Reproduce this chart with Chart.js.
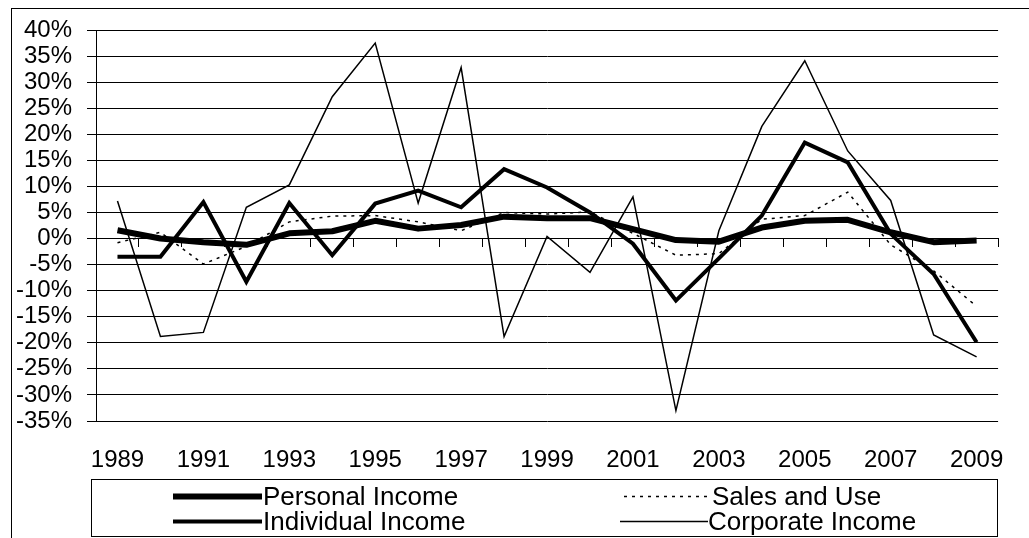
<!DOCTYPE html>
<html>
<head>
<meta charset="utf-8">
<script src="https://cdn.jsdelivr.net/npm/chart.js@4.4.1/dist/chart.umd.min.js"></script>
<style>
html,body{margin:0;padding:0;background:#fff;}
#wrap{width:1029px;height:538px;position:relative;overflow:hidden;}
</style>
</head>
<body>
<div id="wrap"><canvas id="c" width="1029" height="538"></canvas></div>
<script>
// ---- data ----
const years = ['1989','1990','1991','1992','1993','1994','1995','1996','1997','1998','1999','2000','2001','2002','2003','2004','2005','2006','2007','2008','2009'];
const personalIncome   = [1.6, 0.0, -0.7, -1.2, 1.0, 1.4, 3.4, 1.9, 2.6, 4.2, 3.9, 3.9, 1.8, -0.3, -0.6, 2.1, 3.4, 3.6, 1.2, -0.7, -0.4];
const salesAndUse      = [-0.8, 1.2, -4.9, -1.5, 3.2, 4.3, 4.4, 3.2, 1.5, 5.0, 4.7, 5.1, 1.0, -3.2, -2.9, 3.7, 4.4, 8.9, -1.2, -6.2, -13.0];
const individualIncome = [-3.5, -3.5, 7.0, -8.3, 6.8, -3.2, 6.7, 9.2, 6.0, 13.3, 9.8, 5.0, -1.0, -11.9, -3.8, 4.4, 18.4, 14.6, 0.9, -6.8, -19.9];
const corporateIncome  = [7.2, -18.8, -18.0, 6.0, 10.3, 27.2, 37.5, 6.8, 32.8, -18.8, 0.4, -6.5, 8.0, -33.0, 1.5, 21.5, 34.1, 16.8, 7.3, -18.5, -22.7];
const seriesNames = ['Personal Income', 'Sales and Use', 'Individual Income', 'Corporate Income'];
const yMin = -35, yMax = 40, yStep = 5;

const FONT = 'Liberation Sans, Arial, sans-serif';

const datasets = [
  {label: seriesNames[0], data: personalIncome, borderColor:'#000', borderWidth:6, borderJoinStyle:'round', borderCapStyle:'butt'},
  {label: seriesNames[1], data: salesAndUse, borderColor:'#000', borderWidth:1.5, borderDash:[3,5], borderJoinStyle:'miter'},
  {label: seriesNames[2], data: individualIncome, borderColor:'#000', borderWidth:4, borderJoinStyle:'miter', borderCapStyle:'butt'},
  {label: seriesNames[3], data: corporateIncome, borderColor:'#000', borderWidth:1.5, borderJoinStyle:'miter'}
].map(d => Object.assign({pointRadius:0, pointHoverRadius:0, tension:0, fill:false, xAxisID:'x', yAxisID:'y'}, d));

const framePlugin = {
  id: 'frame',
  beforeDraw(chart) {
    const ctx = chart.ctx;
    ctx.save();
    ctx.fillStyle = '#fff';
    ctx.fillRect(0, 0, chart.width, chart.height);
    ctx.strokeStyle = '#000';
    ctx.lineWidth = 1;
    ctx.strokeRect(11.5, 8.5, 1200, 700);
    ctx.restore();
  },
  afterDraw(chart) {
    const ctx = chart.ctx;
    ctx.save();
    ctx.strokeStyle = '#000';
    ctx.lineWidth = 1;
    ctx.strokeRect(91.5, 479.5, 906, 57);
    const entries = [
      {ds: 0, x1: 173, x2: 262, tx: 263, y: 496.5},
      {ds: 1, x1: 624, x2: 708, tx: 712, y: 496.5},
      {ds: 2, x1: 173, x2: 262, tx: 263, y: 521.5},
      {ds: 3, x1: 620, x2: 708, tx: 708, y: 521.5}
    ];
    ctx.font = '26px ' + FONT;
    ctx.textBaseline = 'middle';
    ctx.textAlign = 'left';
    ctx.fillStyle = '#000';
    entries.forEach(e => {
      const d = chart.data.datasets[e.ds];
      ctx.beginPath();
      ctx.lineWidth = d.borderWidth;
      ctx.setLineDash(d.borderDash || []);
      ctx.lineCap = 'butt';
      ctx.moveTo(e.x1, e.y);
      ctx.lineTo(e.x2, e.y);
      ctx.stroke();
      ctx.setLineDash([]);
      ctx.fillText(d.label, e.tx, e.y + 1);
    });
    ctx.restore();
  }
};

new Chart(document.getElementById('c'), {
  type: 'line',
  data: {labels: years, datasets: datasets},
  options: {
    responsive: false,
    animation: false,
    devicePixelRatio: 1,
    events: [],
    layout: {padding: {left: 0, right: 29, top: 30, bottom: 0}},
    plugins: {legend: {display: false}, tooltip: {enabled: false}},
    scales: {
      x: {
        type: 'category',
        position: 'bottom',
        offset: true,
        grid: {display: false, drawTicks: false},
        border: {display: false},
        ticks: {
          autoSkip: false, maxRotation: 0, minRotation: 0, padding: 25,
          color: '#000', font: {family: FONT, size: 24},
          callback: (v, i) => (i % 2 === 0 ? years[i] : '')
        },
        afterFit: s => { s.height = 117; }
      },
      x0: {
        type: 'category',
        position: {y: 0},
        offset: true,
        grid: {offset: true, drawOnChartArea: false, drawTicks: true, tickLength: 8, color: '#000', lineWidth: 1},
        border: {display: true, color: '#000', width: 1},
        ticks: {display: false}
      },
      y: {
        type: 'linear',
        position: 'left',
        min: yMin, max: yMax,
        ticks: {stepSize: yStep, autoSkip: false, padding: 15, color: '#000', font: {family: FONT, size: 24}, callback: v => v + '%'},
        grid: {color: '#000', lineWidth: 1, tickLength: 9, drawTicks: true},
        border: {display: true, color: '#000', width: 1},
        afterFit: s => { s.width = 96; }
      }
    }
  },
  plugins: [framePlugin]
});
</script>
</body>
</html>
